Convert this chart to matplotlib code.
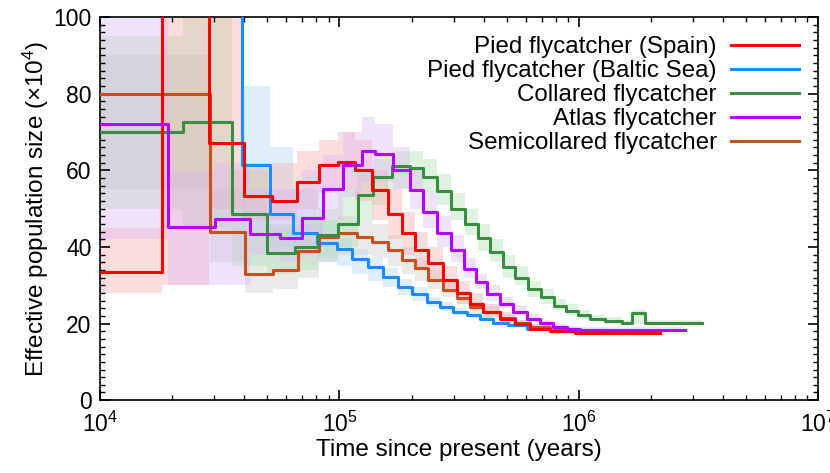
import matplotlib.pyplot as plt
from matplotlib.ticker import MultipleLocator

plt.rcParams["font.family"] = ["Liberation Sans", "DejaVu Sans"]
plt.rcParams["mathtext.fontset"] = "custom"
plt.rcParams["mathtext.rm"] = "Liberation Sans"
plt.rcParams["mathtext.it"] = "Liberation Sans:italic"

# PSMC step curves: interval start (years), Ne (x10^4), bootstrap low/high
spain_t = [1.0e4, 1.82e4, 2.85e4, 3.99e4, 5.23e4, 6.65e4, 8.21e4, 9.86e4, 1.161e5,
           1.367e5, 1.594e5, 1.824e5, 2.067e5, 2.342e5, 2.705e5, 3.095e5, 3.507e5,
           3.974e5, 4.678e5, 5.404e5, 6.243e5, 7.568e5, 9.623e5]
spain_ne = [33.5, 150, 67.1, 53.3, 52.0, 57.0, 61.4, 62.2, 60.1, 54.8, 48.7, 43.5,
            39.2, 35.7, 31.3, 27.9, 25.2, 23.1, 21.3, 20.0, 18.7, 18.0, 17.6]
spain_lo = [28, 30, 50, 47, 47, 50, 54, 55, 52, 47, 42, 38, 34, 31, 28, 25, 23,
            21.5, 20, 19, 18, 17.3, 17]
spain_hi = [45, 110, 110, 62, 62, 65, 68, 70, 68, 60, 55, 49, 44, 40, 35, 31, 28,
            25, 23, 21, 20, 18.8, 18.3]
spain_end = 2.18e6

baltic_t = [1.0e4, 3.9e4, 5.13e4, 6.39e4, 8.06e4, 9.76e4, 1.128e5, 1.315e5, 1.519e5,
            1.755e5, 2.008e5, 2.32e5, 2.628e5, 2.978e5, 3.407e5, 3.861e5, 4.375e5,
            5.052e5, 6.067e5, 7.568e5]
baltic_ne = [150, 61.3, 48.7, 43.5, 41.0, 39.5, 36.9, 34.8, 32.2, 29.6, 27.8, 25.6,
             24.4, 23.1, 22.2, 21.3, 20.2, 19.6, 18.7, 18.2]
baltic_lo = [110, 45, 40, 38, 36, 35, 33, 31, 29.5, 27.5, 26, 24.3, 23.2, 22.2, 21.4,
             20.6, 19.6, 19, 18.2, 17.8]
baltic_hi = [110, 82, 66, 55, 47, 42, 39.5, 37, 34.5, 31.5, 29.5, 27, 25.6, 24, 23,
             22, 21, 20.2, 19.2, 18.6]
baltic_end = 1.224e6

collared_t = [1.0e4, 2.22e4, 3.56e4, 4.98e4, 6.52e4, 8.13e4, 9.86e4, 1.195e5, 1.38e5,
              1.657e5, 1.97e5, 2.232e5, 2.554e5, 2.921e5, 3.342e5, 3.787e5, 4.251e5,
              4.815e5, 5.404e5, 6.125e5, 6.94e5, 7.864e5, 8.826e5, 9.904e5, 1.111e6,
              1.284e6, 1.512e6, 1.665e6, 1.887e6]
collared_ne = [70.1, 72.7, 48.7, 38.3, 40.0, 43.0, 46.1, 53.5, 58.3, 61.0, 60.5, 58.3,
               54.6, 50.0, 46.1, 42.2, 38.7, 34.8, 31.9, 28.9, 26.8, 24.6, 23.3, 22.2,
               21.3, 20.6, 20.2, 22.8, 20.2]
collared_lo = [50, 45, 35, 33, 34, 37, 40, 47, 51, 55, 55, 54, 51, 47, 43, 39, 36, 32,
               30, 27, 25, 23.5, 22.3, 21.3, 20.6, 20, 19.6, 20, 19.6]
collared_hi = [95, 110, 60, 46, 48, 50, 55, 59, 63, 65, 65, 63, 59, 54, 50, 46, 42,
               38, 35, 31, 29, 26.5, 25, 23.5, 22.3, 21.6, 21, 23.5, 21]
collared_end = 3.26e6

atlas_t = [1.0e4, 1.92e4, 3.02e4, 4.23e4, 5.64e4, 6.97e4, 8.53e4, 1.034e5, 1.242e5,
           1.407e5, 1.673e5, 1.97e5, 2.232e5, 2.554e5, 2.921e5, 3.31e5, 3.715e5,
           4.13e5, 4.678e5, 5.301e5, 6.067e5, 6.875e5, 7.789e5, 8.911e5, 1.01e6]
atlas_ne = [72.1, 45.2, 47.4, 43.3, 42.3, 47.6, 55.2, 61.5, 65.0, 64.2, 60.2, 54.8,
            49.0, 43.5, 39.2, 34.3, 30.8, 27.7, 25.2, 23.1, 21.3, 20.2, 19.2, 18.6, 18.3]
atlas_lo = [42, 30, 30, 38, 36, 40, 47, 53, 57, 57, 55, 50, 45, 40, 36, 32, 29, 26, 24,
            22, 20.5, 19.5, 18.6, 18, 17.8]
atlas_hi = [100, 60, 62, 55, 55, 60, 64, 70, 74, 72, 66, 60, 54, 48, 43, 37, 33, 30, 27,
            24.5, 22.5, 21, 20, 19.3, 19]
atlas_end = 2.77e6

semi_t = [1.0e4, 2.88e4, 4.03e4, 5.28e4, 6.71e4, 8.21e4, 9.86e4, 1.183e5, 1.367e5,
          1.594e5, 1.824e5, 2.067e5, 2.342e5, 2.705e5, 3.095e5, 3.507e5, 3.974e5,
          4.678e5, 5.404e5, 6.243e5, 7.568e5, 9.623e5]
semi_ne = [79.8, 44.0, 33.0, 34.0, 39.0, 42.5, 43.5, 42.7, 41.3, 39.2, 36.6, 34.4,
           31.3, 28.7, 26.6, 24.4, 23.1, 21.5, 20.2, 19.2, 18.4, 18.0]
semi_lo = [55, 36, 28, 29, 32, 36, 38, 38, 37, 35, 33, 31, 29, 27, 25, 23.5, 22, 20.8,
           19.7, 18.8, 18, 17.6]
semi_hi = [90, 55, 45, 45, 46, 47, 48, 47, 46, 43, 40, 37, 34, 31, 28.5, 26, 24.5,
           22.5, 21, 20, 19, 18.5]
semi_end = 1.887e6


def ext(values, end=None):
    """Repeat the last value (or append end time) so steps close."""
    return list(values) + [values[-1] if end is None else end]


fig, ax = plt.subplots(figsize=(8.3, 4.73), dpi=100)
fig.subplots_adjust(left=0.1205, right=0.986, bottom=0.154, top=0.964)

series = [
    ("Pied flycatcher (Baltic Sea)", baltic_t, baltic_ne, baltic_lo, baltic_hi,
     baltic_end, "#1a8cff", "#a9d5f7"),
    ("Semicollared flycatcher", semi_t, semi_ne, semi_lo, semi_hi, semi_end,
     "#c4501c", "#c8c8c8"),
    ("Collared flycatcher", collared_t, collared_ne, collared_lo, collared_hi,
     collared_end, "#3a8c42", "#a8e0b0"),
    ("Pied flycatcher (Spain)", spain_t, spain_ne, spain_lo, spain_hi, spain_end,
     "#ff0000", "#f7a8a8"),
    ("Atlas flycatcher", atlas_t, atlas_ne, atlas_lo, atlas_hi, atlas_end,
     "#b400ff", "#dcb4f5"),
]

# bootstrap envelopes first
for label, t, ne, lo, hi, t_end, col, band in series:
    ax.fill_between(ext(t, t_end), ext(lo), ext(hi), step="post",
                    color=band, alpha=0.38, lw=0, zorder=1)

handles = {}
for label, t, ne, lo, hi, t_end, col, band in series:
    line, = ax.step(ext(t, t_end), ext(ne), where="post", color=col, lw=2.2,
                    zorder=3, label=label)
    handles[label] = line

ax.set_xscale("log")
ax.set_xlim(1e4, 1e7)
ax.set_ylim(0, 100)
ax.yaxis.set_major_locator(MultipleLocator(20))
ax.yaxis.set_minor_locator(MultipleLocator(2))
ax.tick_params(which="both", direction="in", top=True, right=True, labelsize=16.5)
ax.tick_params(which="major", length=7, width=1.2)
ax.tick_params(which="minor", length=3.5, width=1)
ax.tick_params(axis="x", pad=8)
ax.tick_params(axis="y", pad=6)
for sp in ax.spines.values():
    sp.set_linewidth(1.2)

ax.set_xlabel("Time since present (years)", fontsize=17.5, labelpad=2)
ax.set_ylabel("Effective population size (×10$^4$)", fontsize=17.5, labelpad=2)

order = ["Pied flycatcher (Spain)", "Pied flycatcher (Baltic Sea)",
         "Collared flycatcher", "Atlas flycatcher", "Semicollared flycatcher"]
leg = ax.legend([handles[k] for k in order], order, loc="upper right",
                frameon=False, markerfirst=False, fontsize=17.4, handlelength=2.8,
                handletextpad=0.6, labelspacing=0.08, borderaxespad=0.4)
for col in leg._legend_handle_box.get_children():
    col.align = "right"

fig.savefig("out.png", dpi=100)
